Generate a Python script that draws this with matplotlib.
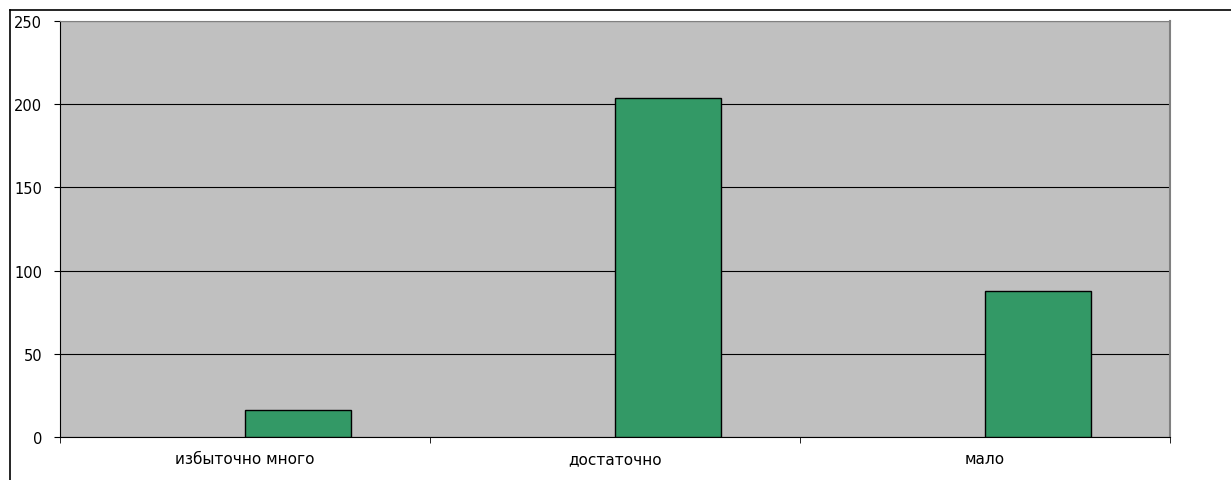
import matplotlib.pyplot as plt
from matplotlib.lines import Line2D
import numpy as np

categories = ["избыточно много", "достаточно", "мало"]
values = [16, 204, 88]
y_ticks = [0, 50, 100, 150, 200, 250]

plt.rcParams['font.family'] = ['DejaVu Sans']

fig = plt.figure(figsize=(12.31, 4.81), dpi=100)
ax = fig.add_axes([60 / 1231, 43 / 481, 1110 / 1231, 416 / 481])
ax.set_facecolor('#c0c0c0')

x = np.arange(len(categories))
w = 1 / 3.5
ax.bar(x + w / 2, values, width=w, color='#339966', edgecolor='black',
       linewidth=1, zorder=3)

ax.set_xlim(-0.5, len(categories) - 0.5)
ax.set_ylim(0, 250)
ax.set_yticks(y_ticks)
ax.set_yticklabels([str(v) for v in y_ticks], fontsize=10.5)
ax.yaxis.grid(True, color='black', linewidth=0.8, zorder=1)
ax.set_axisbelow(True)

ax.set_xticks(x)
ax.set_xticklabels(categories, fontsize=11)
ax.tick_params(axis='x', length=0, pad=10)
ax.set_xticks(np.arange(len(categories) + 1) - 0.5, minor=True)
ax.tick_params(axis='x', which='minor', length=4, direction='out', color='black')
ax.tick_params(axis='y', length=4, direction='out', color='black', pad=9)

ax.spines['left'].set_color('black')
ax.spines['bottom'].set_color('black')
ax.spines['top'].set_color('#808080')
ax.spines['right'].set_color('#808080')
ax.spines['right'].set_linewidth(1.5)

# outer frame lines
fig.add_artist(Line2D([10 / 1231, 1], [1 - 11 / 481, 1 - 11 / 481],
                      color='black', linewidth=1.2))
fig.add_artist(Line2D([10 / 1231, 10 / 1231], [0, 1 - 11 / 481],
                      color='black', linewidth=1.2))

fig.savefig('out.png', dpi=100)
